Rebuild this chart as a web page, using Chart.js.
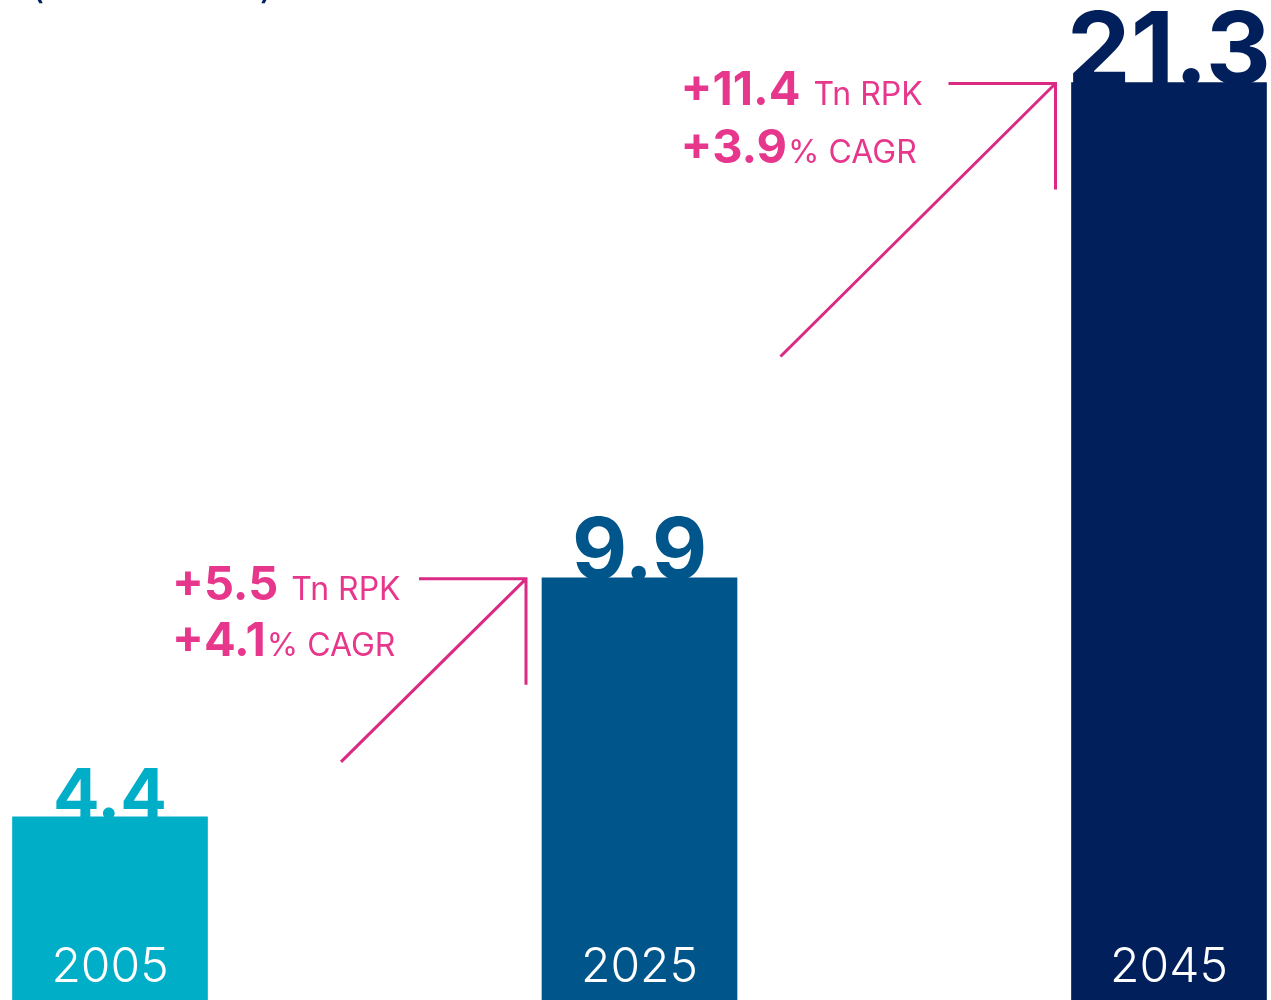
<!DOCTYPE html>
<html>
<head>
<meta charset="utf-8">
<script src="https://cdn.jsdelivr.net/npm/chart.js@4.4.1/dist/chart.umd.min.js"></script>
<style>
  html, body { margin: 0; padding: 0; background: #ffffff; overflow: hidden; }
  #wrap { position: relative; width: 1271px; height: 1008px; }
</style>
</head>
<body>
<div id="wrap"><canvas id="c"></canvas></div>
<script>
// ---- data ----
const years = ['2005', '2025', '2045'];
const rpkTrillions = [4.4, 9.9, 21.3];
const valueLabels = ['4.4', '9.9', '21.3'];
const growthRpk = ['+5.5', '+11.4'];
const growthCagr = ['+4.1', '+3.9'];
const unitTitle = '(Trillion RPK)';

// ---- style ----
const barColors = ['#00AEC7', '#00568A', '#001F5B'];
const valueFontSizes = [69, 85, 101];
const pinkText = '#E6378C';
const pinkLine = '#DA2A84';
const FONT = 'Inter, "Noto Sans", sans-serif';

const labelPlugin = {
  id: 'labels',
  beforeDatasetsDraw(chart) {
    const ctx = chart.ctx;
    const meta = chart.getDatasetMeta(0);
    ctx.save();
    // unit title, mostly cut off at the top edge
    ctx.fillStyle = '#001F5B';
    ctx.font = '400 40px ' + FONT;
    ctx.textAlign = 'left';
    ctx.textBaseline = 'alphabetic';
    ctx.fillText(unitTitle, 30, 0);
    // value labels behind bars
    meta.data.forEach((bar, i) => {
      ctx.fillStyle = barColors[i];
      ctx.font = '700 ' + valueFontSizes[i] + 'px ' + FONT;
      ctx.textAlign = 'center';
      ctx.textBaseline = 'alphabetic';
      ctx.fillText(valueLabels[i], bar.x, bar.y + 1);
    });
    ctx.restore();
  },
  afterDatasetsDraw(chart) {
    const ctx = chart.ctx;
    const meta = chart.getDatasetMeta(0);
    ctx.save();
    // year labels inside bars
    meta.data.forEach((bar, i) => {
      ctx.fillStyle = '#ffffff';
      ctx.font = '300 48px ' + FONT;
      ctx.textAlign = 'center';
      ctx.textBaseline = 'alphabetic';
      ctx.fillText(years[i], bar.x, 982);
    });
    // growth annotations (arrow to bars 1 and 2)
    const ann = [
      { diag: [185, 183], textDx: -354, l1: 21, l2: 77 },
      { diag: [275, 273], textDx: -375, l1: 21, l2: 79 }
    ];
    ann.forEach((a, k) => {
      const bar = meta.data[k + 1];
      const tipX = bar.x - bar.width / 2 - 16;
      const tipY = bar.y + 1;
      ctx.strokeStyle = pinkLine;
      ctx.lineWidth = 3;
      ctx.lineCap = 'butt';
      ctx.beginPath();
      ctx.moveTo(tipX - 107, tipY);
      ctx.lineTo(tipX, tipY);
      ctx.lineTo(tipX, tipY + 106);
      ctx.moveTo(tipX, tipY);
      ctx.lineTo(tipX - a.diag[0], tipY + a.diag[1]);
      ctx.stroke();

      ctx.fillStyle = pinkText;
      ctx.textAlign = 'left';
      ctx.textBaseline = 'alphabetic';
      const x0 = tipX + a.textDx;
      // line 1
      ctx.font = '700 47px ' + FONT;
      ctx.fillText(growthRpk[k], x0, tipY + a.l1);
      let w = ctx.measureText(growthRpk[k]).width;
      ctx.font = '400 32px ' + FONT;
      ctx.fillText('Tn RPK', x0 + w + 13, tipY + a.l1);
      // line 2
      ctx.font = '700 47px ' + FONT;
      ctx.fillText(growthCagr[k], x0, tipY + a.l2);
      w = ctx.measureText(growthCagr[k]).width;
      ctx.font = '400 32px ' + FONT;
      ctx.fillText('% CAGR', x0 + w + 1, tipY + a.l2);
    });
    ctx.restore();
  }
};

new Chart(document.getElementById('c'), {
  type: 'bar',
  data: {
    labels: years,
    datasets: [{
      data: rpkTrillions,
      backgroundColor: barColors,
      borderWidth: 0,
      barThickness: 195,
      clip: false
    }]
  },
  options: {
    responsive: true,
    maintainAspectRatio: false,
    animation: false,
    layout: { padding: { left: 110, right: 102, top: 0, bottom: 0 } },
    plugins: { legend: { display: false }, tooltip: { enabled: false } },
    scales: {
      x: { display: false, offset: false, grid: { display: false } },
      y: { display: false, min: 0, max: 23.2, grid: { display: false } }
    }
  },
  plugins: [labelPlugin]
});
</script>
</body>
</html>
